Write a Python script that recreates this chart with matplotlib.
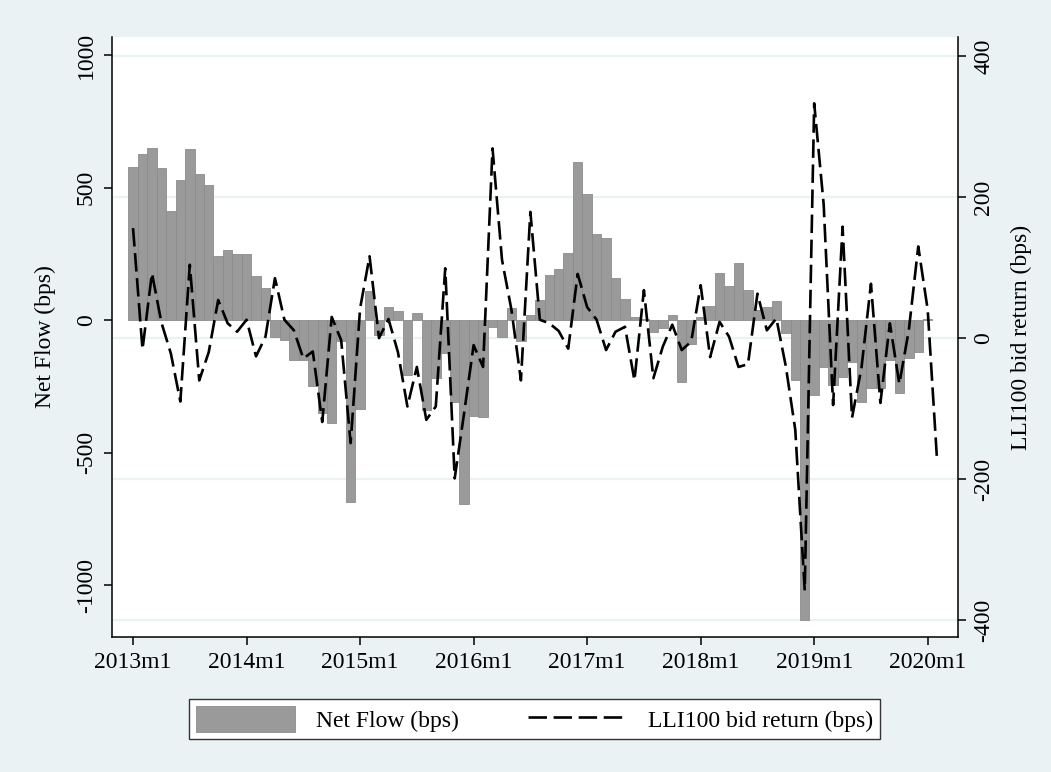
import numpy as np
import matplotlib
matplotlib.use("Agg")
import matplotlib.pyplot as plt
from matplotlib.transforms import blended_transform_factory

# monthly data, 2013m1 onwards (month index 0 = 2013m1)
net_flow = [
    579, 625, 648, 575, 411, 528, 645, 550, 509, 240, 263, 250,
    250, 166, 122, -65, -75, -152, -150, -247, -352, -390, -80, -688,
    -336, 109, -57, 50, 35, -208, 25, -340, -218, -123, -308, -694,
    -362, -365, -25, -63, 44, -79, 19, 75, 170, 192, 252, 596,
    477, 325, 308, 157, 78, 13, 5, -44, -31, 19, -233, -90,
    13, 54, 176, 128, 216, 113, 38, 48, 72, -50, -226, -1132,
    -281, -176, -245, -214, -160, -311, -255, -255, -151, -277, -142, -120,
    5,
]
lli_return = [
    156, -16, 92, 22, -22, -90, 104, -60, -20, 54, 21, 9,
    26, -26, 2, 85, 26, 11, -29, -19, -119, 30, -3, -149,
    42, 116, 0, 27, -20, -97, -41, -116, -97, 99, -199, -106,
    -10, -41, 269, 111, 40, -60, 179, 26, 21, 10, -15, 91,
    44, 26, -17, 9, 16, -60, 68, -57, -12, 19, -17, -5,
    75, -27, 23, 2, -41, -37, 63, 11, 28, -40, -130, -358,
    333, 190, -95, 158, -113, -42, 77, -92, 21, -65, 11, 130,
    40, -176,
]
years = list(range(2013, 2021))
left_ticks = [-1000, -500, 0, 500, 1000]
right_ticks = [-400, -200, 0, 200, 400]

BG = "#EAF2F3"
FONT = ["Liberation Serif", "DejaVu Serif"]
plt.rcParams["font.family"] = FONT
plt.rcParams["font.size"] = 17

fig = plt.figure(figsize=(10.51, 7.72), dpi=100, facecolor=BG)
ax = fig.add_axes([0.1066, 0.1749, 0.8049, 0.7771])
ax2 = ax.twinx()

x_bar = np.arange(len(net_flow))
x_line = np.arange(len(lli_return))

ax.set_xlim(-2.22, 87.2)
ax.set_ylim(-1196, 1068)
ax2.set_ylim(-424, 427)

# grid lines follow the right axis, drawn behind the bars
grid_tr = blended_transform_factory(ax.transAxes, ax2.transData)
for v in right_ticks:
    ax.plot([0, 1], [v, v], transform=grid_tr, color=BG, lw=1.6, zorder=0)

ax.bar(x_bar, net_flow, width=1.0, color="#9a9a9a", edgecolor="#8c8c8c",
       linewidth=0.6, zorder=2, label="Net Flow (bps)")
ax2.plot(x_line, lli_return, color="black", lw=1.9, dashes=(7, 2.5),
         label="LLI100 bid return (bps)")

ax.set_xticks([12 * k for k in range(len(years))])
ax.set_xticklabels([f"{y}m1" for y in years])
ax.set_yticks(left_ticks)
ax.set_yticklabels([str(t) for t in left_ticks], rotation=90, va="center")
ax2.set_yticks(right_ticks)
ax2.set_yticklabels([str(t) for t in right_ticks], rotation=90, va="center")

ax.set_ylabel("Net Flow (bps)", labelpad=14)
ax2.set_ylabel("LLI100 bid return (bps)", rotation=90, labelpad=12)

for a in (ax, ax2):
    a.tick_params(length=6, width=1.1, color="black", pad=5)
    for s in a.spines.values():
        s.set_linewidth(1.1)
        s.set_color("black")
    a.spines["top"].set_visible(False)
ax.spines["right"].set_visible(False)
ax2.spines["left"].set_visible(False)
ax2.spines["bottom"].set_visible(False)

h1, l1 = ax.get_legend_handles_labels()
h2, l2 = ax2.get_legend_handles_labels()
leg = fig.legend(h1 + h2, l1 + l2, loc="center", ncol=2,
                 bbox_to_anchor=(534.5 / 1051, 1 - 719 / 772),
                 handlelength=4.2, handleheight=1.3, handletextpad=0.9,
                 columnspacing=2.9, borderpad=0.3, fancybox=False,
                 frameon=True, edgecolor="#333333", framealpha=1)
leg.get_frame().set_linewidth(1.0)

fig.savefig("out.png", dpi=100, facecolor=BG)
